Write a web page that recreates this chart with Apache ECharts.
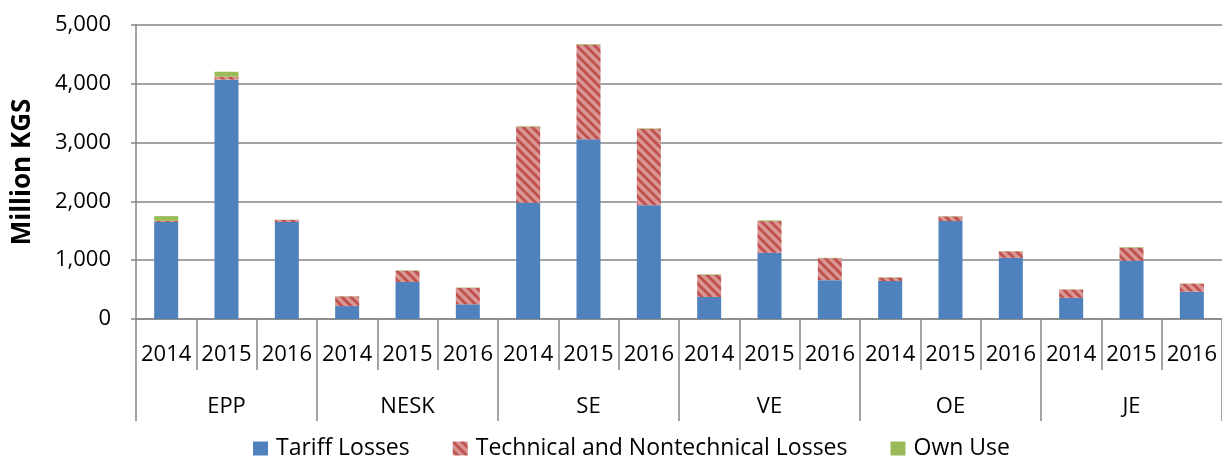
<!DOCTYPE html>
<html>
<head>
<meta charset="utf-8">
<script src="https://cdn.jsdelivr.net/npm/echarts@6/dist/echarts.min.js"></script>
<style>
html,body{margin:0;padding:0;background:#fff;}
#chart{width:1222px;height:459px;}
</style>
</head>
<body>
<div id="chart"></div>
<script>
const groups = ['EPP', 'NESK', 'SE', 'VE', 'OE', 'JE'];
const years = ['2014', '2015', '2016'];
const tariffLosses = [1650, 4070, 1650, 220, 630, 250, 1975, 3055, 1935, 375, 1125, 660, 645, 1665, 1040, 360, 990, 465];
const technicalLosses = [20, 50, 35, 165, 190, 280, 1295, 1610, 1300, 375, 540, 375, 60, 80, 110, 140, 225, 135];
const ownUse = [80, 85, 4, 5, 8, 5, 10, 12, 8, 10, 12, 5, 5, 5, 5, 5, 8, 5];
const seriesNames = ['Tariff Losses', 'Technical and Nontechnical Losses', 'Own Use'];

const yearCats = [];
groups.forEach(function () { years.forEach(function (y) { yearCats.push(y); }); });

function hatch() {
  const s = 9;
  const c = document.createElement('canvas');
  c.width = s; c.height = s;
  const ctx = c.getContext('2d');
  ctx.fillStyle = '#D99694';
  ctx.fillRect(0, 0, s, s);
  ctx.strokeStyle = '#C0504D';
  ctx.lineWidth = 2.8;
  [-s, 0, s].forEach(function (k) {
    ctx.beginPath();
    ctx.moveTo(-2, -2 + k);
    ctx.lineTo(s + 2, s + 2 + k);
    ctx.stroke();
  });
  return c;
}

const FONT = '"Open Sans", "Noto Sans", sans-serif';
const GRAY = '#868686';

const chart = echarts.init(document.getElementById('chart'), null, { renderer: 'canvas' });
chart.setOption({
  animation: false,
  backgroundColor: '#fff',
  textStyle: { fontFamily: FONT },
  grid: { left: 136, top: 25, width: 1089, height: 294, containLabel: false },
  legend: {
    left: 253, top: 437, padding: 0,
    itemWidth: 15, itemHeight: 14, itemGap: 43,
    icon: 'rect',
    textStyle: { fontFamily: FONT, fontSize: 23, color: '#000', padding: [0, 0, 0, 3] },
    data: seriesNames
  },
  xAxis: [
    {
      type: 'category', data: yearCats, position: 'bottom',
      axisLine: { show: true, lineStyle: { color: GRAY, width: 1.5 } },
      axisTick: { show: true, interval: 0, length: 51, lineStyle: { color: GRAY, width: 1.5 } },
      axisLabel: { interval: 0, margin: 25, fontFamily: FONT, fontSize: 22, color: '#000' },
      splitLine: { show: false }
    },
    {
      type: 'category', data: groups, position: 'bottom',
      axisLine: { show: false },
      axisTick: { show: true, interval: 0, length: 102, lineStyle: { color: GRAY, width: 1.5 } },
      axisLabel: { interval: 0, margin: 77, fontFamily: FONT, fontSize: 22, color: '#000' },
      splitLine: { show: false }
    }
  ],
  yAxis: {
    type: 'value', min: 0, max: 5000, interval: 1000,
    name: 'Million KGS', nameLocation: 'middle', nameGap: 100, nameRotate: 90,
    nameTextStyle: { fontFamily: FONT, fontSize: 26, fontWeight: 'bold', color: '#000' },
    axisLine: { show: true, lineStyle: { color: GRAY, width: 1.5 } },
    axisTick: { show: true, length: 5, lineStyle: { color: GRAY, width: 1.5 } },
    axisLabel: {
      margin: 25, fontFamily: FONT, fontSize: 22, color: '#000',
      formatter: function (v) { return v.toLocaleString('en-US'); }
    },
    splitLine: { show: true, lineStyle: { color: GRAY, width: 1.5 } }
  },
  series: [
    { name: seriesNames[0], type: 'bar', stack: 'total', xAxisIndex: 0, barWidth: 24,
      itemStyle: { color: '#4F81BD' }, data: tariffLosses },
    { name: seriesNames[1], type: 'bar', stack: 'total', xAxisIndex: 0, barWidth: 24,
      itemStyle: { color: { image: hatch(), repeat: 'repeat' } }, data: technicalLosses },
    { name: seriesNames[2], type: 'bar', stack: 'total', xAxisIndex: 0, barWidth: 24,
      itemStyle: { color: '#9BBB59' }, data: ownUse }
  ]
});
</script>
</body>
</html>
